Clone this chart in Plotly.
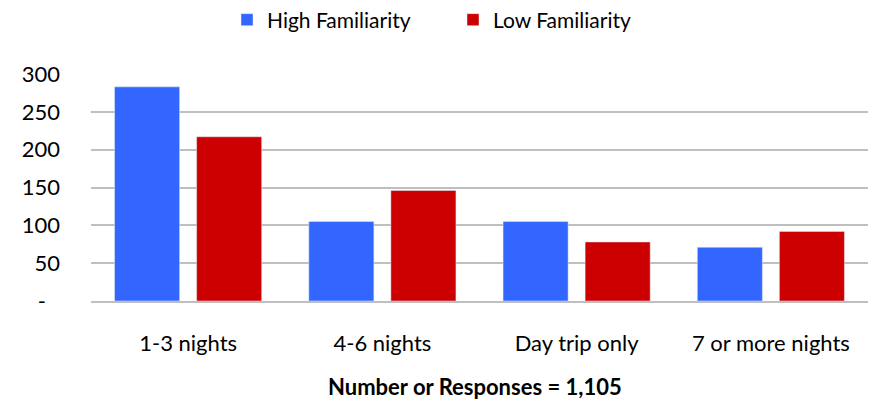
import plotly.graph_objects as go

categories = ["1-3 nights", "4-6 nights", "Day trip only", "7 or more nights"]
high_fam = [283, 105, 105, 71]
low_fam = [217, 146, 78, 92]
y_ticks = [0, 50, 100, 150, 200, 250, 300]
y_tick_labels = ["-\u00a0\u00a0\u2009", "50", "100", "150", "200", "250", "300"]

# page has an 8px body margin, so the figure is sized to fit inside the window
fig = go.Figure()
fig.add_trace(go.Bar(x=categories, y=high_fam, name="High Familiarity", marker_color="#3366FF"))
fig.add_trace(go.Bar(x=categories, y=low_fam, name="Low Familiarity", marker_color="#CC0000"))

fig.update_layout(
    width=865, height=395,
    autosize=False,
    barmode="group",
    bargap=0.155,
    bargroupgap=0.207,
    plot_bgcolor="white",
    paper_bgcolor="white",
    font=dict(family="Lato, Open Sans, sans-serif", size=22, color="black"),
    margin=dict(l=83, r=5, t=66, b=102, autoexpand=False),
    legend=dict(orientation="h", x=219 / 865, xanchor="left", xref="container",
                y=1 - 12 / 395, yanchor="middle", yref="container",
                font=dict(size=21), itemwidth=30, entrywidth=181, traceorder="normal"),
    showlegend=True,
)

# x-axis title as an annotation so it can sit lower than the margin allows
fig.add_annotation(text="<b>Number or Responses = 1,105</b>", showarrow=False,
                   xref="paper", x=0.494, xanchor="center",
                   yref="paper", y=-85 / 227, yanchor="middle",
                   font=dict(size=22))

fig.update_yaxes(range=[0, 300], tickvals=y_ticks, ticktext=y_tick_labels,
                 showgrid=True, gridcolor="#BFBFBF", gridwidth=2,
                 zeroline=False, showline=False, ticks="", ticklabelstandoff=30)
fig.update_xaxes(showline=True, linecolor="#BFBFBF", linewidth=2, ticks="",
                 ticklabelstandoff=22)

fig.write_html("out.html")
